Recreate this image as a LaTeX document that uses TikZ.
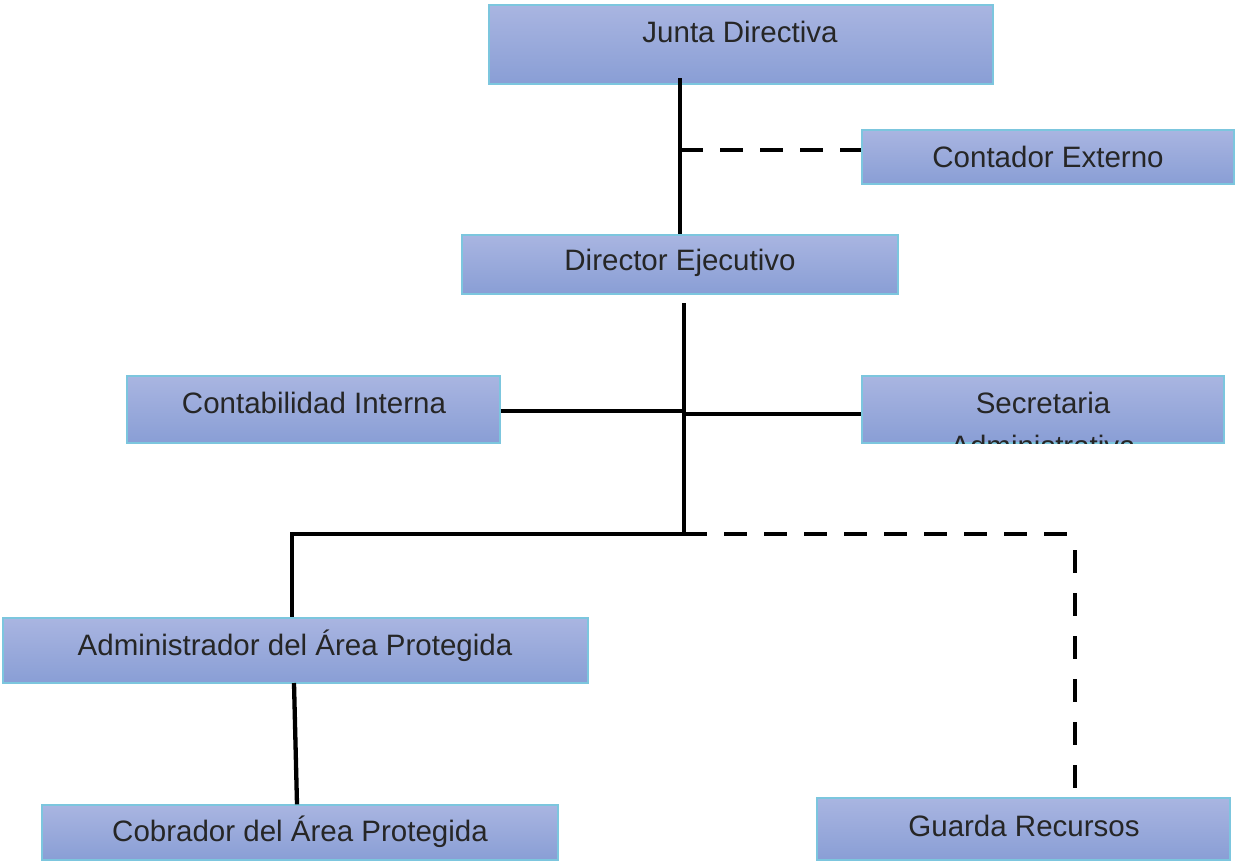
\documentclass[tikz,border=0pt]{standalone}
\usepackage{fontspec}
\setmainfont{Liberation Sans}
\definecolor{boxtop}{HTML}{A9B5E1}
\definecolor{boxbot}{HTML}{899ED5}
\definecolor{boxline}{HTML}{7CC6DE}
\begin{document}
\begin{tikzpicture}[x=1pt,y=-1pt,
  orgbox/.style={draw=boxline,line width=1.2pt,top color=boxtop,bottom color=boxbot,inner sep=0pt},
  lbl/.style={inner sep=0pt,font=\fontsize{29.5}{36}\selectfont,text=black!85},
  conn/.style={line width=4.3pt,black},
  dconn/.style={line width=4.3pt,black,dash pattern=on 23pt off 17pt},
  vdconn/.style={line width=4.3pt,black,dash pattern=on 23pt off 20pt}]
\useasboundingbox (0,0) rectangle (1236,862);
% boxes
\node[orgbox,minimum width=504pt,minimum height=79pt] (jd) at (741,44.5) {};
\node[orgbox,minimum width=372pt,minimum height=54pt] (ce) at (1048,157) {};
\node[orgbox,minimum width=436pt,minimum height=59pt] (de) at (680,264.5) {};
\node[orgbox,minimum width=373pt,minimum height=67pt] (ci) at (313.5,409.5) {};
\node[orgbox,minimum width=362pt,minimum height=67pt] (sa) at (1043,409.5) {};
\node[orgbox,minimum width=585pt,minimum height=65pt] (ap) at (295.5,650.5) {};
\node[orgbox,minimum width=516pt,minimum height=55pt] (cp) at (300,832.5) {};
\node[orgbox,minimum width=413pt,minimum height=62pt] (gr) at (1023.5,829) {};
% labels
\node[lbl] (jdT) at (740,32) {Junta Directiva};
\node[lbl] (ceT) at (1048,157) {Contador Externo};
\node[lbl] (deT) at (680,263) {Director Ejecutivo};
\node[lbl] (ciT) at (314,403) {Contabilidad Interna};
\node[lbl] (apT) at (295,646) {Administrador del Área Protegida};
\node[lbl] (cpT) at (300,832) {Cobrador del Área Protegida};
\node[lbl] (grT) at (1024,826) {Guarda Recursos};
\begin{scope}
  \clip (sa.north west) rectangle (sa.south east);
  \node[lbl,anchor=base] (saT1) at (1043,413) {Secretaria};
  \node[lbl,anchor=base] (saT2) at (1043,456) {Administrativa};
\end{scope}
% connector coordinates
\coordinate (jtop) at (680,78);
\coordinate (jdash) at (680,150);
\coordinate (dtop) at (684,303);
\coordinate (cjoin) at (684,411);
\coordinate (sjoin) at (684,414);
\coordinate (hub) at (684,534);
\coordinate (lcorner) at (292,534);
\coordinate (rcorner) at (1074,534);
\coordinate (rstart) at (1075,550);
\coordinate (rend) at (1075,790);
\coordinate (apbot) at (294,683);
% connectors
\draw[conn] (jtop) -- (jtop |- de.north);
\draw[dconn] (jdash) -- (jdash -| ce.west);
\draw[conn] (dtop) -- (hub);
\draw[conn] (ci.east |- cjoin) -- (cjoin);
\draw[conn] (sjoin) -- (sjoin -| sa.west);
\draw[conn] (hub) -- (lcorner) -- (lcorner |- ap.north);
\draw[dconn] (hub) -- (rcorner);
\draw[vdconn] (rstart) -- (rend);
\draw[conn] (apbot) -- (cp.north -| 297,0);
\end{tikzpicture}
\end{document}
